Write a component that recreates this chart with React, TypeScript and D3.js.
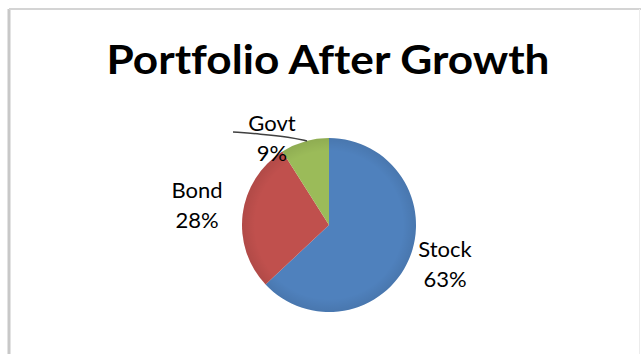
import React from "react";
import * as d3 from "d3";

const categories = ["Stock", "Bond", "Govt"];
const values = [63, 28, 9];
const colors = ["#4F81BD", "#C0504D", "#9BBB59"];
const labelLines = [
  ["Stock", "63%"],
  ["Bond", "28%"],
  ["Govt", "9%"],
];

const W = 641;
const H = 354;
const cx = 329;
const cy = 225;
const R = 87;

// label anchor positions (center x, first baseline y)
const labelPos = [
  { x: 445, y: 257 },
  { x: 197, y: 198 },
  { x: 272, y: 131 },
];

export default function App() {
  const pie = d3.pie<number>().sort(null).value((d) => d);
  const arcs = pie(values);
  const arc = d3.arc<d3.PieArcDatum<number>>().innerRadius(0).outerRadius(R);
  const font = "Lato, 'Open Sans', sans-serif";
  const leader = d3.line().curve(d3.curveBasis)([
    [233, 132],
    [260, 134],
    [290, 137],
    [307, 141],
  ]);
  return (
    <svg
      width={W}
      height={H}
      style={{ position: "absolute", left: 0, top: 0, background: "#fff" }}
    >
      <defs>
        <radialGradient id="shade" cx="50%" cy="50%" r="50%">
          <stop offset="85%" stopColor="#000" stopOpacity={0} />
          <stop offset="100%" stopColor="#000" stopOpacity={0.08} />
        </radialGradient>
      </defs>
      <rect x={0} y={0} width={W} height={H} fill="#fff" />
      <line x1={9} y1={9} x2={9} y2={H} stroke="#c8c8c8" strokeWidth={3} />
      <line x1={9} y1={9} x2={W} y2={9} stroke="#d4d4d4" strokeWidth={2} />
      <line x1={639.5} y1={9} x2={639.5} y2={H} stroke="#ececec" strokeWidth={1} />
      <text
        x={328}
        y={74}
        textAnchor="middle"
        fontFamily={font}
        fontWeight="bold"
        fontSize={41}
        textLength={443}
        lengthAdjust="spacingAndGlyphs"
        fill="#000"
        style={{ fontVariantLigatures: "none", fontFeatureSettings: "'liga' 0, 'clig' 0, 'dlig' 0" }}
      >
        Portfolio After Growth
      </text>
      <g transform={`translate(${cx},${cy})`}>
        {arcs.map((a, i) => (
          <path key={categories[i]} d={arc(a) || ""} fill={colors[i]} />
        ))}
        <circle r={R} fill="url(#shade)" />
      </g>
      <path d={leader || ""} fill="none" stroke="#404040" strokeWidth={1.5} />
      {labelLines.map((lines, i) => (
        <text
          key={categories[i]}
          x={labelPos[i].x}
          y={labelPos[i].y}
          textAnchor="middle"
          fontFamily={font}
          fontSize={22}
          fill="#000"
        >
          <tspan x={labelPos[i].x} y={labelPos[i].y}>
            {lines[0]}
          </tspan>
          <tspan x={labelPos[i].x} y={labelPos[i].y + 30}>
            {lines[1]}
          </tspan>
        </text>
      ))}
    </svg>
  );
}
